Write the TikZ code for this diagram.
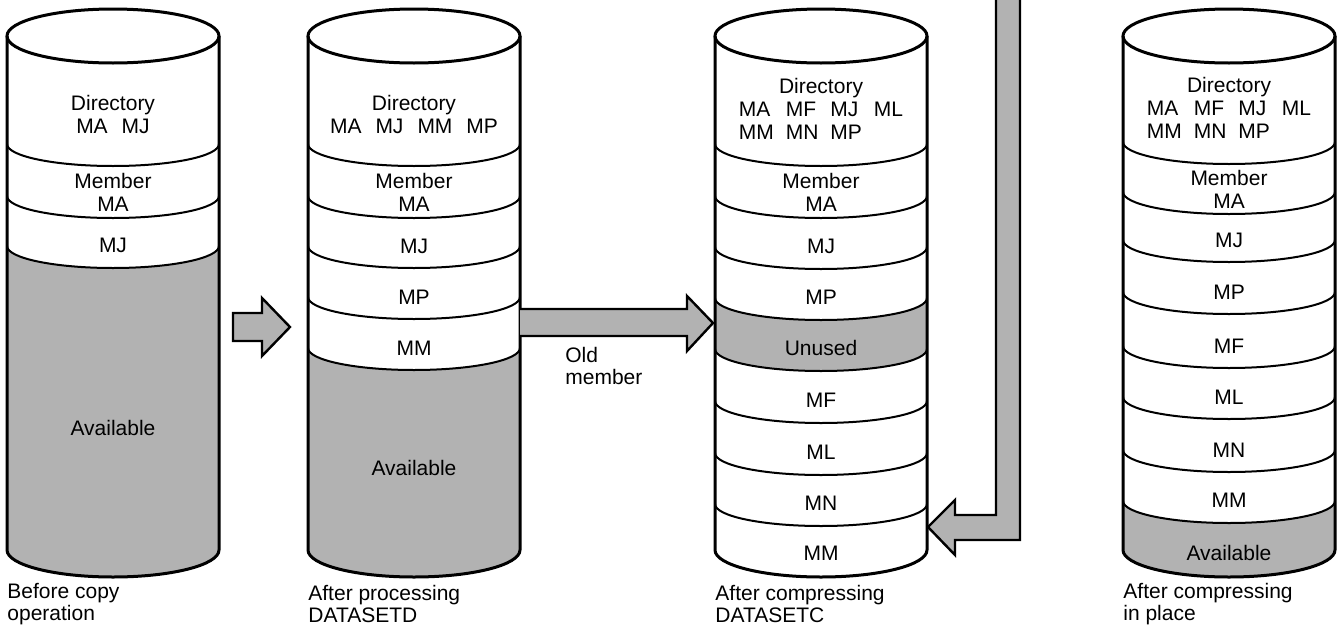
\documentclass[tikz,border=0pt]{standalone}
\usepackage{fontspec}
\setmainfont{Liberation Sans}
\usetikzlibrary{positioning}

\begin{document}
\begin{tikzpicture}[x=0.5pt, y=-0.5pt,
    rim/.style={line width=1.5pt},
    seam/.style={line width=1pt},
    halftone/.style={fill=black!30},
    blockarrow/.style={line width=1.2pt, line join=miter},
    txt/.style={font=\fontsize{10.5}{11.5}\selectfont, align=center, inner sep=0pt},
    note/.style={font=\fontsize{10.5}{11}\selectfont, align=left, anchor=west, inner sep=0pt},
    front/.style={start angle=180, end angle=0, x radius=106, y radius=22},
    frontback/.style={start angle=0, end angle=180, x radius=106, y radius=22},
    bottomarc/.style={start angle=180, end angle=0, x radius=106, y radius=27}]

  \useasboundingbox (0,0) rectangle (1339,627);

  % Before copy operation
  \fill[halftone] (7,246) -- (7,550) arc[bottomarc] -- (219,246) arc[frontback] -- cycle;
  \foreach \b in {166,218,268}
    \draw[seam] (7,\b-22) arc[front];
  \draw[rim] (113,36) ellipse [x radius=106, y radius=27];
  \draw[rim] (7,36) -- (7,550) arc[bottomarc] -- (219,36);

  \node[txt] (dirA) at (113,114) {Directory\\MA\hspace{7pt}MJ};
  \node[txt] (memA) at (113,192) {Member\\MA};
  \node[txt] (mjA) at (113,245) {MJ};
  \node[txt] (availA) at (113,428) {Available};
  \node[note] (capA) at (7,604) {Before copy\\operation};

  % After processing DATASETD
  \fill[halftone] (308,348) -- (308,550) arc[bottomarc] -- (520,348) arc[frontback] -- cycle;
  \foreach \b in {166,218,268,319,370}
    \draw[seam] (308,\b-22) arc[front];
  \draw[rim] (414,36) ellipse [x radius=106, y radius=27];
  \draw[rim] (308,36) -- (308,550) arc[bottomarc] -- (520,36);

  \node[txt] (dirB) at (414,114) {Directory\\MA\hspace{7pt}MJ\hspace{7pt}MM\hspace{7pt}MP};
  \node[txt] (memB) at (414,192) {Member\\MA};
  \node[txt] (mjB) at (414,246) {MJ};
  \node[txt] (mpB) at (414,297) {MP};
  \node[txt] (mmB) at (414,348) {MM};
  \node[txt] (availB) at (414,468) {Available};
  \node[note] (capB) at (308,604) {After processing\\DATASETD};

  % After compressing DATASETC
  \fill[halftone] (715,298) arc[front] -- (927,349) arc[frontback] -- cycle;
  \foreach \b in {166,218,269,320,371,423,475,526}
    \draw[seam] (715,\b-22) arc[front];
  \draw[rim] (821,36) ellipse [x radius=106, y radius=27];
  \draw[rim] (715,36) -- (715,550) arc[bottomarc] -- (927,36);

  \node[txt] (dirC) at (821,112) {Directory\\\begin{tabular}[t]{@{}l@{\hspace{6pt}}l@{\hspace{6pt}}l@{\hspace{6pt}}l@{}}MA&MF&MJ&ML\\MM&MN&MP\end{tabular}};
  \node[txt] (memC) at (821,192) {Member\\MA};
  \node[txt] (mjC) at (821,246) {MJ};
  \node[txt] (mpC) at (821,297) {MP};
  \node[txt] (unusedC) at (821,348) {Unused};
  \node[txt] (mfC) at (821,400) {MF};
  \node[txt] (mlC) at (821,452) {ML};
  \node[txt] (mnC) at (821,503) {MN};
  \node[txt] (mmC) at (821,553) {MM};
  \node[note] (capC) at (715,604) {After compressing\\DATASETC};

  % After compressing in place
  \fill[halftone] (1123,501) -- (1123,550) arc[bottomarc] -- (1335,501) arc[frontback] -- cycle;
  \foreach \b in {164,214,262,314,368,419,472,523}
    \draw[seam] (1123,\b-22) arc[front];
  \draw[rim] (1229,36) ellipse [x radius=106, y radius=27];
  \draw[rim] (1123,36) -- (1123,550) arc[bottomarc] -- (1335,36);

  \node[txt] (dirD) at (1229,111) {Directory\\\begin{tabular}[t]{@{}l@{\hspace{6pt}}l@{\hspace{6pt}}l@{\hspace{6pt}}l@{}}MA&MF&MJ&ML\\MM&MN&MP\end{tabular}};
  \node[txt] (memD) at (1229,189) {Member\\MA};
  \node[txt] (mjD) at (1229,240) {MJ};
  \node[txt] (mpD) at (1229,292) {MP};
  \node[txt] (mfD) at (1229,346) {MF};
  \node[txt] (mlD) at (1229,397) {ML};
  \node[txt] (mnD) at (1229,450) {MN};
  \node[txt] (mmD) at (1229,500) {MM};
  \node[txt] (availD) at (1229,553) {Available};
  \node[note] (capD) at (1123,604) {After compressing\\in place};

  % Arrows
  \coordinate (copytip) at (290,327);
  \filldraw[halftone, blockarrow] (233,313) -- (262,313) -- (262,298) -- (copytip)
    -- (262,356) -- (262,341) -- (233,341) -- cycle;

  \coordinate (oldtip) at (713,323);
  \fill[halftone] (520,309) -- (687,309) -- (687,296) -- (oldtip) -- (687,351) -- (687,336) -- (520,336) -- cycle;
  \draw[blockarrow] (520,309) -- (687,309) -- (687,296) -- (oldtip) -- (687,351) -- (687,336) -- (520,336);
  \node[note] (oldlbl) at (565,366) {Old\\member};

  \coordinate (placetip) at (928,527);
  \fill[halftone] (996,0) -- (996,515) -- (955,515) -- (955,500) -- (placetip) -- (955,555) -- (955,540) -- (1020,540) -- (1020,0) -- cycle;
  \draw[blockarrow] (996,0) -- (996,515) -- (955,515) -- (955,500) -- (placetip) -- (955,555) -- (955,540) -- (1020,540) -- (1020,0);

\end{tikzpicture}
\end{document}
